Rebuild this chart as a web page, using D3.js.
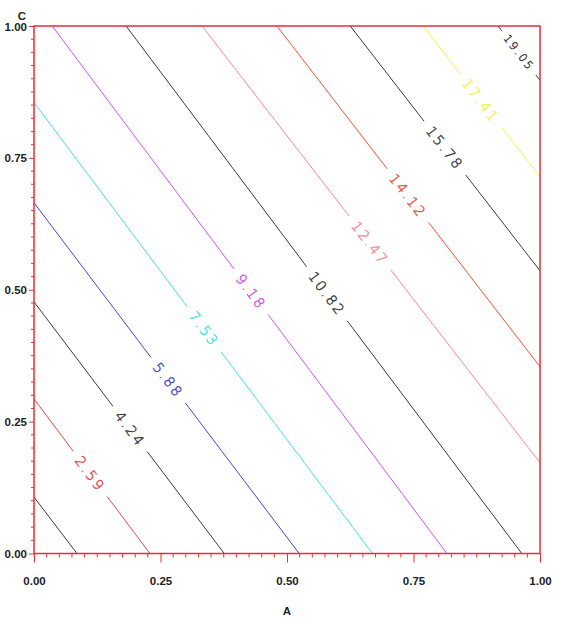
<!DOCTYPE html>
<html>
<head>
<meta charset="utf-8">
<script src="https://cdn.jsdelivr.net/npm/d3@7"></script>
<style>
  html, body { margin: 0; padding: 0; background: #fff; }
  svg { display: block; }
  .tick-label { font-family: "Liberation Sans", Arial, sans-serif; font-weight: bold; font-size: 11.5px; fill: #222; }
  .contour-label { font-family: "DejaVu Sans", sans-serif; font-weight: 200; letter-spacing: 2.2px; stroke-width: 0.45px; }
</style>
</head>
<body>
<script>
// Contour levels of the response surface over A (x) and C (y)
const levels = [0.94, 2.59, 4.24, 5.88, 7.53, 9.18, 10.82, 12.47, 14.12, 15.78, 17.41, 19.05];
const labelled = [false, true, true, true, true, true, true, true, true, true, true, true];
// Where each contour enters and leaves the unit square (A, C)
const startA = [0, 0, 0, 0, 0, 0.036, 0.182, 0.332, 0.480, 0.625, 0.769, 0.917];
const startC = [0.107, 0.293, 0.477, 0.665, 0.855, 1, 1, 1, 1, 1, 1, 1];
const endA = [0.085, 0.229, 0.376, 0.524, 0.669, 0.816, 0.964, 1, 1, 1, 1, 1];
const endC = [0, 0, 0, 0, 0, 0, 0, 0.172, 0.354, 0.536, 0.714, 0.897];
// A coordinate at which each level's label sits on its contour
const labelA = [null, 0.111, 0.190, 0.265, 0.336, 0.429, 0.579, 0.664, 0.739, 0.812, 0.883, 0.958];

// Styling per level
const levelColors = ["#3a3a3a", "#e2474f", "#3a3a3a", "#4646c8", "#46e0e0", "#cc55e6", "#3a3a3a",
                     "#f28a9a", "#e8553a", "#3a3a3a", "#f2f24a", "#3a3a3a"];
const labelFontSize = [14, 14, 14, 14, 14, 14, 14, 14, 14, 14, 14, 11];

const xTicks = [0, 0.25, 0.5, 0.75, 1];
const yTicks = [0, 0.25, 0.5, 0.75, 1];

const W = 562, H = 622;
const plotLeft = 34, plotRight = 540, plotTop = 26, plotBottom = 553.5;

const svg = d3.select("body").append("svg").attr("width", W).attr("height", H);
const x = d3.scaleLinear().domain([0, 1]).range([plotLeft, plotRight]);
const y = d3.scaleLinear().domain([0, 1]).range([plotBottom, plotTop]);

const frameColor = "#e0303c";

// Contour lines, broken where a label sits
const gLines = svg.append("g");
const gLabels = svg.append("g");
levels.forEach((lv, i) => {
  const p0 = [x(startA[i]), y(startC[i])];
  const p1 = [x(endA[i]), y(endC[i])];
  const dx = p1[0] - p0[0], dy = p1[1] - p0[1];
  const len = Math.hypot(dx, dy);
  const segs = [];
  if (labelled[i]) {
    const t = (labelA[i] - startA[i]) / (endA[i] - startA[i]);
    const cx = p0[0] + dx * t, cy = p0[1] + dy * t;
    const ang = Math.atan2(dy, dx) * 180 / Math.PI;
    const txt = gLabels.append("text")
      .attr("class", "contour-label")
      .attr("font-size", labelFontSize[i] + "px")
      .attr("fill", levelColors[i])
      .attr("stroke", levelColors[i])
      .attr("text-anchor", "middle")
      .attr("dominant-baseline", "central")
      .attr("transform", `translate(${cx},${cy}) rotate(${ang})`)
      .text(lv.toFixed(2));
    const half = txt.node().getComputedTextLength() / 2 + labelFontSize[i] * 0.6;
    const g0 = t - half / len, g1 = t + half / len;
    segs.push([0, Math.max(0, g0)], [Math.min(1, g1), 1]);
  } else {
    segs.push([0, 1]);
  }
  segs.forEach(([a, b]) => {
    if (b <= a) return;
    gLines.append("line")
      .attr("x1", p0[0] + dx * a).attr("y1", p0[1] + dy * a)
      .attr("x2", p0[0] + dx * b).attr("y2", p0[1] + dy * b)
      .attr("stroke", levelColors[i]).attr("stroke-width", 1);
  });
});

// Frame
svg.append("rect")
  .attr("x", plotLeft).attr("y", plotTop)
  .attr("width", plotRight - plotLeft).attr("height", plotBottom - plotTop)
  .attr("fill", "none").attr("stroke", frameColor).attr("stroke-width", 1.5);

// Bottom axis: major and minor ticks
const xAxis = d3.axisBottom(x).tickValues(xTicks).tickFormat(d3.format(".2f")).tickSize(9).tickPadding(14);
const gx = svg.append("g").attr("transform", `translate(0,${plotBottom})`).call(xAxis);
gx.select(".domain").remove();
gx.selectAll(".tick line").attr("stroke", frameColor);
gx.selectAll(".tick text").attr("class", "tick-label").attr("dy", "0.35em").attr("y", 27);
const xMinor = d3.range(0, 1.0001, 0.025).filter(v => Math.abs(v * 4 - Math.round(v * 4)) > 1e-6);
gx.selectAll(".minor").data(xMinor).enter().append("line")
  .attr("x1", d => x(d)).attr("x2", d => x(d))
  .attr("y1", 0).attr("y2", 4)
  .attr("stroke", frameColor);

// Left axis: major and minor ticks
const yAxis = d3.axisLeft(y).tickValues(yTicks).tickFormat(d3.format(".2f")).tickSize(5).tickPadding(2);
const gy = svg.append("g").attr("transform", `translate(${plotLeft},0)`).call(yAxis);
gy.select(".domain").remove();
gy.selectAll(".tick line").attr("stroke", frameColor);
gy.selectAll(".tick text").attr("class", "tick-label").attr("x", -7).attr("dy", "0.35em");
const yMinor = d3.range(0, 1.0001, 0.025).filter(v => Math.abs(v * 4 - Math.round(v * 4)) > 1e-6);
gy.selectAll(".minor").data(yMinor).enter().append("line")
  .attr("x1", -3).attr("x2", 0)
  .attr("y1", d => y(d)).attr("y2", d => y(d))
  .attr("stroke", frameColor);

// Axis titles
svg.append("text").attr("class", "tick-label")
  .attr("x", x(0.5)).attr("y", 611).attr("dy", "0.35em").attr("text-anchor", "middle").text("A");
svg.append("text").attr("class", "tick-label")
  .attr("x", 22).attr("y", 16).attr("dy", "0.35em").attr("text-anchor", "middle").text("C");
</script>
</body>
</html>
